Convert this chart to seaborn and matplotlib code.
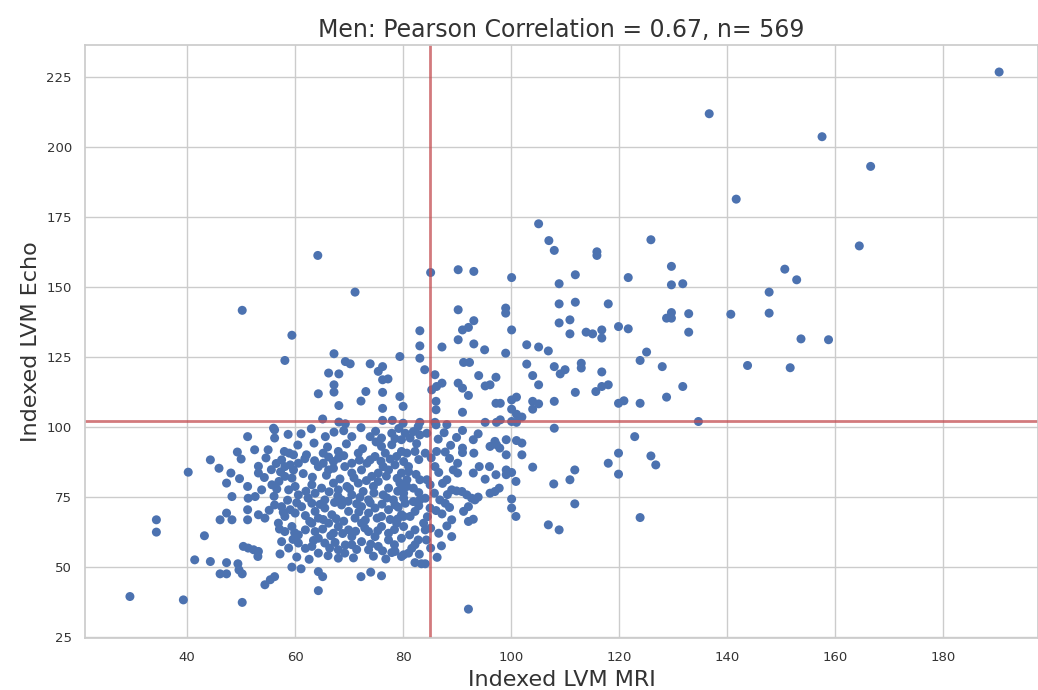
import numpy as np
import pandas as pd
import matplotlib
matplotlib.use("Agg")
import matplotlib.pyplot as plt
import seaborn as sns

title = "Men: Pearson Correlation = 0.67, n= 569"
x_label = "Indexed LVM MRI"
y_label = "Indexed LVM Echo"
mri_cutoff = 85
echo_cutoff = 102
x_ticks = [40, 60, 80, 100, 120, 140, 160, 180]
y_ticks = [25, 50, 75, 100, 125, 150, 175, 200, 225]

# (MRI, Echo) points, grouped by region
upper_pts = [
    (190.4, 226.7), (136.7, 211.8), (157.6, 203.6), (166.6, 193.0), (141.7, 181.3), (105.1, 172.5),
    (107.0, 166.5), (108.0, 163.0), (115.9, 162.5), (115.9, 161.2), (125.9, 166.8),
    (85.1, 155.1), (90.2, 156.1), (93.1, 155.5), (100.1, 153.3), (111.9, 154.3), (121.7, 153.3),
    (129.7, 157.3), (129.7, 150.7), (131.8, 151.1), (108.9, 151.1),
    (90.2, 141.8), (99.0, 142.4), (99.0, 140.6), (108.9, 143.9), (111.9, 144.5), (118.0, 143.9),
    (128.8, 138.8), (129.7, 138.8), (129.7, 140.8), (132.9, 140.4), (132.9, 133.8),
    (83.1, 134.3), (83.1, 128.9), (83.1, 124.5), (79.4, 125.1),
    (91.0, 134.6), (92.1, 135.5), (93.1, 137.9), (90.2, 131.1), (93.1, 129.6), (87.2, 128.5), (95.1, 127.5),
    (100.1, 134.6), (99.0, 126.3), (108.9, 137.1), (110.9, 138.2), (110.9, 133.2), (113.9, 133.8), (115.1, 133.2),
    (116.8, 134.6), (116.8, 131.7), (119.9, 135.8), (121.7, 135.0),
    (102.9, 129.3), (105.1, 128.5), (106.9, 127.1), (125.1, 126.7), (123.9, 123.7), (128.0, 121.5),
    (91.2, 123.0), (92.3, 123.0), (84.0, 120.4), (85.9, 118.6), (94.0, 118.3), (97.2, 117.7),
    (102.9, 122.4), (104.0, 118.3), (108.0, 121.5), (109.1, 118.9), (110.0, 120.4), (113.0, 122.7), (113.0, 121.0), (116.8, 119.6),
    (87.2, 115.6), (86.2, 114.4), (85.3, 113.2), (90.2, 115.6), (91.0, 113.8), (92.1, 111.2), (95.2, 114.6), (96.1, 115.0),
    (105.1, 115.0), (115.7, 112.6), (116.8, 114.4), (118.0, 115.0), (111.9, 112.3), (131.8, 114.4), (128.8, 110.6),
    (80.0, 107.3), (79.4, 110.8), (86.1, 109.1), (86.1, 106.1), (91.0, 105.2), (97.2, 108.4), (98.0, 108.4),
    (100.1, 109.6), (101.0, 110.6), (100.1, 106.3), (101.0, 104.5), (102.0, 103.5),
    (104.0, 109.1), (105.1, 108.2), (104.0, 106.3), (108.0, 109.1), (119.9, 108.4), (120.9, 109.3), (123.9, 108.4),
    (80.0, 101.3), (83.1, 101.6), (85.9, 101.6), (88.1, 100.8), (95.2, 101.6), (97.3, 101.6), (98.0, 102.5),
    (100.1, 101.9), (101.0, 101.6), (134.7, 101.9), (108.0, 99.5),
    (164.5, 164.6), (150.7, 156.3), (152.9, 152.5), (147.8, 148.1), (140.7, 140.2), (147.8, 140.6),
    (153.7, 131.4), (158.8, 131.1), (143.8, 121.9), (151.7, 121.1),
    (64.2, 161.2), (71.1, 148.1), (50.2, 141.6), (59.4, 132.7), (58.1, 123.7), (67.2, 126.1), (69.3, 123.3),
    (70.2, 122.5), (73.9, 122.5), (75.4, 119.8), (76.2, 121.5),
    (66.2, 119.2), (68.1, 118.9), (67.2, 115.0), (67.2, 112.4), (76.2, 116.8), (77.2, 117.1), (64.3, 111.8),
    (73.1, 112.6), (76.2, 112.3), (72.2, 109.2), (68.1, 107.6), (76.2, 106.6), (65.1, 102.8),
    (68.1, 101.7), (69.3, 101.1), (76.2, 102.3), (78.0, 102.3), (56.0, 99.5),
]

left_pts = [
    (29.4, 39.4), (39.3, 38.2), (50.2, 37.3), (34.3, 66.8), (34.3, 62.4), (43.2, 61.1), (41.4, 52.5), (44.3, 51.9),
    (47.3, 51.5), (46.1, 47.5), (47.3, 47.5), (49.4, 51.1), (49.6, 48.9), (50.2, 47.5),
    (54.4, 43.6), (55.4, 45.4), (56.2, 46.5), (59.4, 49.9), (61.1, 49.3), (64.3, 48.3), (65.1, 46.5), (64.3, 41.5),
    (72.2, 46.5), (74.0, 48.1), (76.0, 46.8), (77.9, 55.1), (79.7, 53.7),
    (50.4, 57.3), (51.3, 56.7), (52.3, 56.1), (53.2, 55.5), (53.1, 53.7), (57.2, 54.6),
    (46.1, 66.8), (47.3, 69.2), (48.3, 66.8), (51.2, 70.4), (51.2, 66.8), (53.2, 68.6), (54.4, 67.4), (56.2, 72.1),
    (51.2, 96.5), (56.2, 98.9), (56.2, 96.0), (52.5, 91.8), (55.0, 91.8), (49.3, 91.0), (44.3, 88.2), (40.2, 83.8),
    (53.2, 85.9), (53.2, 83.5), (48.1, 83.5), (47.3, 79.9), (51.2, 78.7), (48.3, 75.1), (51.3, 74.5), (52.6, 75.1),
    (53.8, 77.5), (55.7, 79.3), (57.0, 80.5),
]

core_pts = [
    (61.1, 97.5), (67.2, 98.1), (70.5, 96.5), (73.9, 96.5), (76.0, 96.0), (77.9, 97.7), (79.7, 95.4),
    (58.0, 91.2), (58.9, 90.6), (59.7, 90.0), (62.1, 90.0), (65.2, 90.6), (66.2, 89.2), (67.1, 87.6), (68.0, 91.2),
    (68.0, 88.8), (70.5, 87.0), (71.7, 90.6), (73.9, 88.2), (74.8, 89.4), (76.0, 93.0), (76.7, 90.6), (77.9, 93.6),
    (78.8, 89.4), (79.7, 91.2),
    (57.5, 88.2), (58.1, 85.8), (59.1, 86.4), (59.7, 84.6), (60.6, 87.0), (64.3, 85.8), (65.2, 87.0), (66.2, 84.6),
    (67.1, 85.2), (69.2, 85.8), (70.5, 83.5), (72.3, 84.6), (73.3, 87.0), (74.2, 82.3), (75.4, 83.5), (76.3, 85.8),
    (77.3, 84.6), (78.5, 86.4), (79.7, 83.5),
    (58.1, 82.3), (59.4, 81.7), (60.0, 78.7), (58.8, 77.5), (60.6, 75.7), (63.1, 79.3), (63.7, 76.3), (64.9, 78.1),
    (65.5, 73.9), (67.1, 79.9), (68.0, 77.5), (68.6, 73.9), (69.6, 78.7), (70.5, 75.7), (71.7, 79.9), (72.6, 76.9),
    (73.6, 73.9), (74.5, 78.7), (75.4, 80.5), (76.3, 75.7), (77.3, 78.1), (78.2, 73.9), (79.4, 79.9), (80.1, 76.3),
    (57.5, 71.5), (58.1, 68.0), (59.1, 70.4), (60.0, 69.2), (61.2, 71.5), (63.1, 72.7), (63.7, 69.8), (64.3, 67.4),
    (65.5, 71.0), (66.8, 68.6), (68.6, 72.1), (69.9, 69.8), (71.1, 67.4), (72.3, 71.5), (73.6, 69.2), (74.8, 71.0),
    (76.0, 68.0), (77.3, 70.4), (78.5, 72.1), (79.7, 68.6),
    (56.9, 65.6), (58.1, 62.6), (59.4, 64.4), (60.6, 61.4), (63.1, 65.6), (63.7, 62.6), (64.3, 60.2), (66.2, 65.6),
    (67.1, 62.0), (68.0, 64.4), (69.9, 63.2), (70.5, 60.8), (72.3, 65.6), (73.6, 62.6), (74.8, 60.8), (76.0, 64.4),
    (77.3, 62.0), (78.8, 65.6), (79.7, 60.2),
    (57.5, 59.0), (58.8, 56.7), (60.6, 58.5), (63.1, 57.3), (64.3, 54.9), (65.5, 58.5), (68.0, 56.1), (69.2, 54.9),
    (70.5, 57.9), (72.3, 59.0), (73.6, 56.1), (75.4, 57.3), (77.3, 59.6), (78.5, 55.5), (68.0, 53.1),
]

mid_pts = [
    (122.9, 96.5), (119.9, 90.6), (125.9, 89.6), (126.8, 86.4), (118.0, 87.0), (119.9, 83.1), (111.8, 84.6),
    (110.9, 81.1), (107.9, 79.6), (111.8, 72.5), (123.9, 67.6), (106.9, 65.0), (108.9, 63.2), (92.1, 34.9),
    (104.0, 85.6), (102.0, 94.2), (102.0, 90.0), (101.0, 95.1), (100.9, 80.5), (100.1, 74.2), (100.1, 71.0), (100.9, 68.0),
    (99.1, 95.4), (99.1, 90.0), (99.1, 84.6), (100.1, 83.7), (99.1, 82.9),
    (97.0, 94.8), (96.1, 93.0), (97.3, 93.6), (97.9, 92.4), (96.0, 85.8), (97.2, 82.9), (97.8, 78.1), (97.0, 76.9),
    (96.1, 76.3), (95.2, 81.3),
    (94.1, 85.8), (93.0, 83.5), (93.1, 90.6), (93.0, 95.4), (93.9, 97.5), (91.0, 92.4), (91.0, 90.8), (91.0, 98.7), (86.1, 100.7),
    (87.8, 91.0), (86.2, 91.2), (84.1, 90.6), (85.9, 85.8), (90.1, 87.0), (89.3, 84.6), (90.1, 83.5), (88.1, 81.1),
    (89.0, 77.5), (89.9, 77.1), (90.9, 76.9), (91.8, 75.7), (92.7, 74.5), (93.9, 74.9), (93.3, 73.9), (86.8, 73.9), (87.8, 72.7),
    (92.1, 71.5), (91.2, 69.8), (89.0, 66.8), (92.1, 66.2), (93.0, 67.0), (89.0, 60.8), (87.1, 57.5), (85.1, 56.7),
    (85.0, 71.0), (85.0, 79.3), (85.1, 63.8),
    (83.8, 65.6), (84.1, 63.2), (82.2, 63.2), (82.2, 69.8), (81.3, 68.0), (80.1, 68.0), (80.1, 64.4), (82.2, 57.9),
    (82.8, 59.6), (80.1, 54.3), (81.0, 54.9),
    (82.2, 51.5), (83.4, 51.1), (84.1, 51.1), (83.1, 73.9), (84.1, 74.5), (81.9, 73.3), (80.7, 78.7), (81.9, 78.1),
    (83.1, 81.1), (80.7, 81.1), (79.7, 77.5), (80.1, 74.5), (80.4, 72.7), (81.0, 85.8), (80.1, 87.6), (81.0, 84.0),
    (80.4, 97.7), (81.9, 98.3), (83.1, 97.1), (84.4, 97.7), (81.3, 96.0), (80.7, 90.6), (82.2, 91.2), (84.4, 81.1),
]

hidden_core_pts = [
    (60.5, 93.5), (63.5, 94.2), (66.0, 92.8), (69.5, 93.9), (72.5, 92.2), (75.0, 94.6), (78.5, 95.8), (82.5, 94.0), (86.5, 95.6), (88.8, 93.4),
    (61.8, 88.6), (63.6, 87.9), (69.0, 89.7), (71.9, 88.1), (75.9, 87.7), (77.6, 88.5), (82.9, 88.3), (85.2, 88.9), (88.6, 88.7), (56.5, 86.9),
    (57.3, 83.9), (61.5, 83.3), (63.2, 82.0), (65.8, 82.7), (68.3, 81.4), (70.9, 81.8), (73.2, 80.8), (76.9, 82.4), (78.9, 81.6), (82.4, 83.0), (86.6, 83.7), (87.3, 79.8),
    (56.6, 77.8), (62.0, 77.0), (66.3, 76.8), (67.9, 75.3), (70.1, 77.9), (72.0, 74.8), (74.6, 76.4), (77.0, 74.6), (79.0, 77.0), (82.9, 76.5), (85.8, 76.3), (88.2, 75.8),
    (58.6, 73.8), (60.3, 72.9), (62.4, 74.6), (64.6, 72.3), (67.3, 73.0), (69.8, 73.4), (71.4, 72.5), (73.9, 72.9), (76.1, 72.4), (79.1, 71.3), (82.9, 71.8), (86.1, 70.1), (88.6, 71.2),
    (57.8, 69.5), (61.9, 68.3), (62.7, 66.2), (65.2, 66.9), (67.6, 67.2), (69.0, 66.3), (71.8, 69.6), (73.0, 66.7), (75.2, 67.4), (77.6, 66.9), (79.0, 67.1), (84.5, 67.9), (87.2, 68.9),
    (57.1, 63.5), (59.9, 62.2), (61.9, 63.2), (65.1, 63.5), (66.6, 61.1), (68.8, 61.9), (71.2, 62.7), (72.9, 63.9), (75.3, 62.9), (78.4, 63.3), (81.2, 61.4), (86.6, 62.0), (88.1, 64.6),
    (59.6, 59.8), (61.9, 56.6), (63.4, 59.4), (66.4, 56.7), (67.4, 58.7), (69.3, 57.8), (71.4, 56.2), (74.0, 58.1), (76.2, 55.7), (78.4, 57.9), (81.6, 56.6), (84.3, 59.6),
    (60.3, 53.5), (62.6, 52.7), (66.1, 54.0), (70.8, 53.2), (74.5, 53.8), (76.8, 52.8), (83.0, 54.5), (86.3, 53.4),
    (58.7, 97.3), (63.0, 99.3), (65.6, 96.5), (69.0, 98.6), (72.2, 99.7), (74.9, 98.4), (79.2, 99.4), (82.8, 100.1), (87.6, 97.9), (89.9, 96.2),
    (45.9, 85.2), (50.0, 88.5), (54.6, 88.9), (55.6, 84.7), (49.7, 81.5), (54.3, 81.9), (56.1, 75.2), (55.2, 70.2),
]

all_pts = upper_pts + left_pts + core_pts + mid_pts + hidden_core_pts
df = pd.DataFrame(all_pts, columns=["mri", "echo"])

sns.set_theme(style="whitegrid")
plt.rcParams['font.family'] = ['DejaVu Sans']

fig = plt.figure(figsize=(10.38, 6.90), dpi=100)
ax = fig.add_axes([0.082, 0.075, 0.918, 0.86])

sns.scatterplot(data=df, x="mri", y="echo", ax=ax, s=42, color="#4C72B0",
                linewidth=0, edgecolor="none")
ax.axvline(mri_cutoff, color="#C44E52", alpha=0.75, linewidth=2)
ax.axhline(echo_cutoff, color="#C44E52", alpha=0.75, linewidth=2)

ax.set_xlim(21.1, 197.6)
ax.set_ylim(24.5, 236.4)
ax.set_xticks(x_ticks)
ax.set_yticks(y_ticks)
ax.tick_params(axis="both", labelsize=9.5, colors="#333333")
ax.set_xlabel(x_label, fontsize=16, color="#333333")
ax.set_ylabel(y_label, fontsize=16, color="#333333")
ax.set_title(title, fontsize=17, color="#333333")

fig.savefig("out.png", dpi=100)
